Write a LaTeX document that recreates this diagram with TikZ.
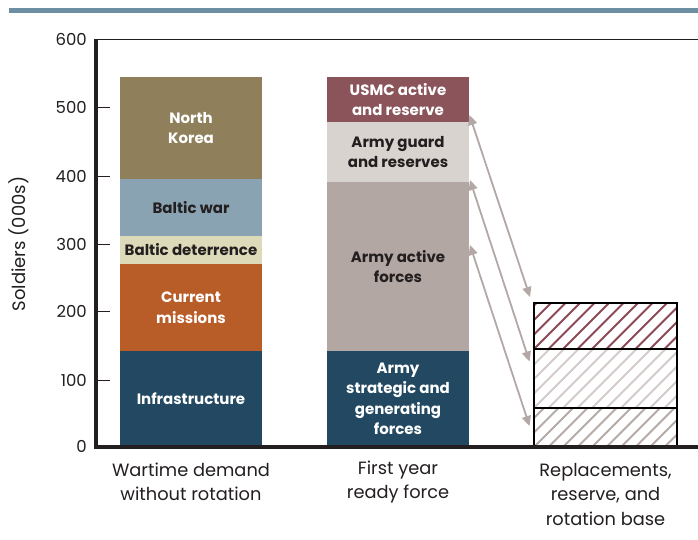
\documentclass[tikz,border=0pt]{standalone}
\usepackage{fontspec}
\setmainfont{Poppins}
\usetikzlibrary{arrows.meta}
\definecolor{topc}{HTML}{6E8FA3}
\definecolor{nkc}{HTML}{8F7F5A}
\definecolor{bwc}{HTML}{8AA3B3}
\definecolor{bdc}{HTML}{DCDAB8}
\definecolor{cmc}{HTML}{B85C28}
\definecolor{infc}{HTML}{234962}
\definecolor{usmcc}{HTML}{8B535A}
\definecolor{guardc}{HTML}{D9D3D0}
\definecolor{activec}{HTML}{B2A7A3}
\definecolor{arrc}{HTML}{B3A8A5}
\definecolor{hatchA}{HTML}{8B4A55}
\definecolor{hatchB}{HTML}{D4CCCA}
\definecolor{hatchC}{HTML}{B5ABA7}
\definecolor{txtc}{HTML}{231F20}
\tikzset{
  seg/.style={minimum width=142pt, inner sep=0pt, outer sep=0pt, align=center,
    font=\bfseries\fontsize{15}{20.5}\selectfont},
  wtxt/.style={text=white},
  dtxt/.style={text=txtc},
  ticklab/.style={anchor=east, inner sep=0pt, text=txtc, font=\fontsize{16.5}{20}\selectfont},
  catlab/.style={align=center, inner sep=0pt, text=txtc, font=\fontsize{17.8}{24.5}\selectfont},
  arr/.style={arrc, line width=1.8pt, {Triangle[length=10pt,width=9pt]}-{Triangle[length=10pt,width=9pt]}},
  hseg/.style={minimum width=143pt, inner sep=0pt, outer sep=0pt, draw=black, line width=1.1pt},
  hatched/.style={path picture={
    \foreach \i in {-6,...,11}{
      \draw[#1, line width=2pt] ([xshift=\i*14.5pt]path picture bounding box.south west) -- ++(80,-80);
    }}},
}
\begin{document}
\begin{tikzpicture}[x=1pt,y=-1pt]
\useasboundingbox (0,0) rectangle (698,539);
\fill[white] (0,0) rectangle (698,539);
% top rule
\fill[topc] (9,8) rectangle (698,13.3);
% bar 1
\node[seg, wtxt, fill=infc, minimum height=96pt] (infra) at (191,399) {Infrastructure};
\node[seg, wtxt, fill=cmc, minimum height=87pt] (cm) at (191,307.5) {Current\\missions};
\node[seg, dtxt, fill=bdc, minimum height=28pt] (bd) at (191,250) {Baltic deterrence};
\node[seg, dtxt, fill=bwc, minimum height=57pt] (bw) at (191,207.5) {Baltic war};
\node[seg, wtxt, fill=nkc, minimum height=102pt] (nk) at (191,128) {North\\Korea};
% bar 2
\node[seg, wtxt, fill=infc, minimum height=96pt] (strat) at (398,399) {Army\\strategic and\\generating\\forces};
\node[seg, dtxt, fill=activec, minimum height=169pt] (active) at (398,266.5) {Army active\\forces};
\node[seg, dtxt, fill=guardc, minimum height=60pt] (guard) at (398,152) {Army guard\\and reserves};
\node[seg, wtxt, fill=usmcc, minimum height=45pt] (usmc) at (398,99.5) {USMC active\\and reserve};
% bar 3 (hatched)
\node[hseg, minimum height=39pt, hatched=hatchC] (r3) at (605.5,427.5) {};
\node[hseg, minimum height=59pt, hatched=hatchB] (r2) at (605.5,378.5) {};
\node[hseg, minimum height=46pt, hatched=hatchA] (r1) at (605.5,326) {};
% axes
\draw[txtc, line width=1pt] (96,39.5) -- (698,39.5);
\draw[txtc, line width=3.2pt] (96,38.9) -- (96,447) -- (698,447);
\foreach \v/\yy in {100/380.3,200/311.3,300/244.5,400/176.4,500/107.7}{
  \draw[txtc, line width=1pt] (96,\yy) -- (110,\yy);
}
\foreach \v/\yy in {0/446.5,100/380.3,200/311.3,300/244.5,400/176.4,500/107.7,600/39.5}{
  \node[ticklab] (t\v) at (87,\yy) {\v};
}
\node[rotate=90, inner sep=0pt, text=txtc, font=\fontsize{18}{20}\selectfont] (ytitle) at (19,244) {Soldiers (000s)};
% category labels
\node[catlab] (c1) at (191,482) {Wartime demand\\without rotation};
\node[catlab] (c2) at (398,482) {First year\\ready force};
\node[catlab] (c3) at (605.5,494) {Replacements,\\reserve, and\\rotation base};
% arrows
\coordinate (a1s) at (469.5,115);
\coordinate (a1e) at (530,297);
\coordinate (a2s) at (470,180);
\coordinate (a2e) at (529.5,361.5);
\coordinate (a3s) at (470,245);
\coordinate (a3e) at (529.5,426);
\draw[arr] (a1s) -- (a1e);
\draw[arr] (a2s) -- (a2e);
\draw[arr] (a3s) -- (a3e);
\end{tikzpicture}
\end{document}
